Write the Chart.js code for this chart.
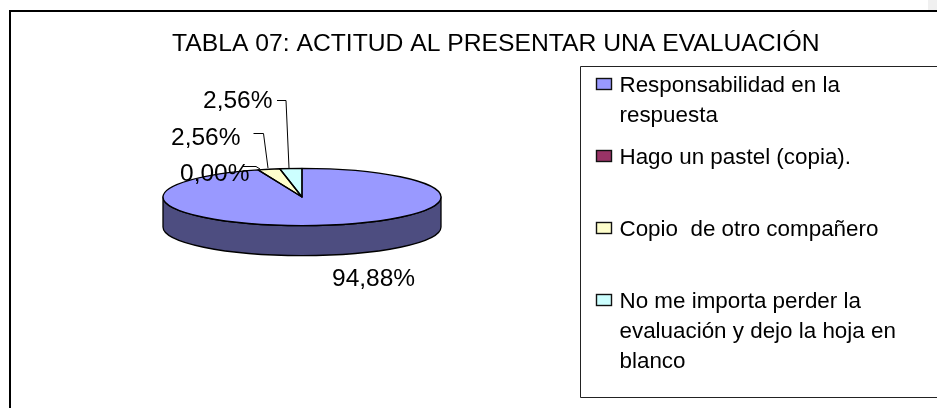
<!DOCTYPE html>
<html><head><meta charset="utf-8">
<style>html,body{margin:0;padding:0;background:#fff}#w{position:relative;width:937px;height:408px;overflow:hidden}canvas{display:block}</style>
<script src="https://cdn.jsdelivr.net/npm/chart.js@4"></script></head>
<body><div id="w"><canvas id="c" width="937" height="408"></canvas></div>
<script>
const chartTitle = "TABLA 07: ACTITUD AL PRESENTAR UNA EVALUACIÓN";
const categories = ["Responsabilidad en la respuesta","Hago un pastel (copia).","Copio  de otro compañero","No me importa perder la evaluación y dejo la hoja en blanco"];
const legendLines = [["Responsabilidad en la","respuesta"],["Hago un pastel (copia)."],["Copio  de otro compañero"],["No me importa perder la","evaluación y dejo la hoja en","blanco"]];
const values = [94.88,0,2.56,2.56];
const colors = ["#9999FF","#993366","#FFFFCC","#CCFFFF"];
const sideColors = ["#4D4D80","#4D1A33","#808066","#668080"];
const FONT = '"Liberation Sans", Arial, sans-serif';
const SQUASH = 0.206, DEPTH = 30;
const fmt = v => v.toFixed(2).replace('.',',') + '%';

const pie3d = {
  id:'pie3d',
  beforeDatasetsDraw(chart){
    const ctx = chart.ctx, arcs = chart.getDatasetMeta(0).data;
    const a0 = arcs[0], cx = a0.x, cy = a0.y, r = a0.outerRadius, ry = r*SQUASH;
    ctx.save();
    ctx.lineWidth = 1.3; ctx.strokeStyle = '#000'; ctx.lineJoin='round';
    arcs.forEach((a,i)=>{
      const s = Math.max(a.startAngle,0), e = Math.min(a.endAngle,Math.PI);
      if (e <= s) return;
      ctx.beginPath();
      ctx.ellipse(cx,cy,r,ry,0,s,e,false);
      ctx.ellipse(cx,cy+DEPTH,r,ry,0,e,s,true);
      ctx.closePath();
      ctx.fillStyle = sideColors[i]; ctx.fill(); ctx.stroke();
    });
    ctx.restore();
    ctx.save();
    ctx.translate(cx,cy); ctx.scale(1,SQUASH); ctx.translate(-cx,-cy);
  },
  afterDatasetsDraw(chart){
    const ctx = chart.ctx, arcs = chart.getDatasetMeta(0).data;
    ctx.restore();
    const a0 = arcs[0], cx = a0.x, cy = a0.y, r = a0.outerRadius, ry = r*SQUASH;
    ctx.save();
    ctx.lineWidth = 1.3; ctx.strokeStyle = '#000'; ctx.lineJoin='round';
    arcs.forEach(a=>{
      if (a.endAngle - a.startAngle <= 0) return;
      ctx.beginPath();
      ctx.moveTo(cx,cy);
      ctx.ellipse(cx,cy,r,ry,0,a.startAngle,a.endAngle,false);
      ctx.closePath(); ctx.stroke();
    });
    ctx.restore();
  },
  afterDraw(chart){
    const ctx = chart.ctx;
    ctx.save();
    // frame
    ctx.fillStyle='#000';
    ctx.fillRect(9,10,928,2); ctx.fillRect(9,10,2,398);
    // title
    ctx.fillStyle='#000'; ctx.textBaseline='middle'; ctx.textAlign='left';
    ctx.font='24.7px '+FONT;
    ctx.fillText(chartTitle,172,44);
    // data labels
    ctx.font='24.5px '+FONT;
    const labelAt = [[332,279],[180,174],[171,138],[203,101]];
    values.forEach((v,i)=>ctx.fillText(fmt(v),labelAt[i][0],labelAt[i][1]));
    // leaders
    ctx.strokeStyle='#000'; ctx.lineWidth=1;
    [[[243,166.5],[256,166.5],[260,169]],[[253.5,133.5],[263.5,133.5],[268,168]],[[277,100.5],[286,100.5],[289,168]]].forEach(p=>{
      ctx.beginPath(); p.forEach((q,j)=>j?ctx.lineTo(q[0],q[1]):ctx.moveTo(q[0],q[1])); ctx.stroke();
    });
    // legend box
    ctx.strokeStyle='#222'; ctx.lineWidth=1;
    ctx.beginPath(); ctx.moveTo(938,66.5); ctx.lineTo(580.5,66.5); ctx.lineTo(580.5,397.5); ctx.lineTo(938,397.5); ctx.stroke();
    ctx.font='22.4px '+FONT;
    const rowY = [86,158,230,302], rowStep = 30;
    legendLines.forEach((lines,i)=>{
      const y = rowY[i];
      ctx.fillStyle=colors[i]; ctx.fillRect(596.5,y-7.5,15,11);
      ctx.strokeStyle='#111'; ctx.lineWidth=1.4; ctx.strokeRect(596.5,y-7.5,15,11); ctx.lineWidth=1;
      ctx.fillStyle='#000';
      lines.forEach((t,j)=>ctx.fillText(t,619.5,y+j*rowStep));
    });
    ctx.fillStyle='#f0f0f0'; ctx.fillRect(928,0,9,10);
    ctx.restore();
  }
};

new Chart(document.getElementById('c'),{
  type:'pie',
  data:{labels:categories,datasets:[{data:values,backgroundColor:colors,borderWidth:0}]},
  options:{
    responsive:false,animation:false,
    layout:{padding:{left:163,right:496,top:58,bottom:72}},
    plugins:{legend:{display:false},tooltip:{enabled:false},title:{display:false}}
  },
  plugins:[pie3d]
});
</script></body></html>
